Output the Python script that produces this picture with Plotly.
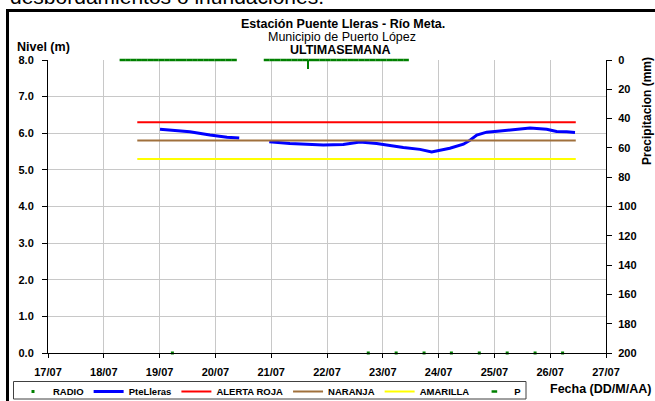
import plotly.graph_objects as go
import pandas as pd

# ---------------- data ----------------
x_range = ["2013-07-17 00:00", "2013-07-27 00:00"]

level_time = [
    "2013-07-19 00:10", "2013-07-19 13:00", "2013-07-19 21:40", "2013-07-20 05:00", "2013-07-20 10:15",
    None,
    "2013-07-20 23:10", "2013-07-21 08:00", "2013-07-21 22:25", "2013-07-22 07:00", "2013-07-22 14:10",
    "2013-07-22 21:20", "2013-07-23 08:50", "2013-07-23 16:00", "2013-07-23 21:00", "2013-07-24 04:50",
    "2013-07-24 10:40", "2013-07-24 13:30", "2013-07-24 16:25", "2013-07-24 20:40", "2013-07-25 02:25",
    "2013-07-25 09:35", "2013-07-25 15:20", "2013-07-25 22:30", "2013-07-26 02:45", "2013-07-26 07:05",
    "2013-07-26 10:40",
]
level_m = [
    6.11, 6.04, 5.95, 5.89, 5.87,
    None,
    5.77, 5.72, 5.68, 5.69, 5.76,
    5.72, 5.61, 5.56, 5.49, 5.59,
    5.70, 5.81, 5.95, 6.03, 6.06,
    6.11, 6.14, 6.11, 6.05, 6.04,
    6.02,
]

threshold_time = ["2013-07-18 14:24", "2013-07-26 11:00"]
alerta_roja_m = [6.3, 6.3]
naranja_m = [5.8, 5.8]
amarilla_m = [5.3, 5.3]

radio_time = [
    "2013-07-19 05:30", "2013-07-22 17:45", "2013-07-23 05:45", "2013-07-23 17:45", "2013-07-24 05:30",
    "2013-07-24 17:30", "2013-07-25 05:30", "2013-07-25 17:30", "2013-07-26 05:20",
]
radio_m = [0, 0, 0, 0, 0, 0, 0, 0, 0]

p_run_start = ["2013-07-18 08:00", "2013-07-20 22:00"]
p_run_end = ["2013-07-20 10:00", "2013-07-23 11:20"]
p_run_mm = [0, 0]
p_step = "144min"
p_spike_time = ["2013-07-21 15:50"]
p_spike_mm = [6]

level_ticks = [0, 1, 2, 3, 4, 5, 6, 7, 8]
precip_ticks = [0, 20, 40, 60, 80, 100, 120, 140, 160, 180, 200]

# ---------------- build ----------------
W, H = 655, 401
L, R, T, B = 48, 49, 60, 48
PW, PH = W - L - R, H - T - B


def px(x):
    return (x - L) / PW


def py(y):
    return (H - B - y) / PH


p_time, p_mm = [], []
for s, e, v in zip(p_run_start, p_run_end, p_run_mm):
    ts = pd.date_range(s, e, freq=p_step)
    p_time += [t.strftime("%Y-%m-%d %H:%M") for t in ts] + [None]
    p_mm += [v] * len(ts) + [None]

FONT = "Liberation Sans, Arial, sans-serif"
GREEN = "#008000"

fig = go.Figure()
fig.add_trace(go.Scatter(
    x=radio_time, y=radio_m, name="RADIO", mode="markers",
    marker=dict(symbol="square", size=3, color=GREEN), cliponaxis=False))
fig.add_trace(go.Scatter(
    x=level_time, y=level_m, name="PteLleras", mode="lines",
    line=dict(color="#0000FF", width=3), connectgaps=False))
fig.add_trace(go.Scatter(
    x=threshold_time, y=alerta_roja_m, name="ALERTA ROJA", mode="lines",
    line=dict(color="#FF0000", width=2)))
fig.add_trace(go.Scatter(
    x=threshold_time, y=naranja_m, name="NARANJA", mode="lines",
    line=dict(color="#A0703C", width=2)))
fig.add_trace(go.Scatter(
    x=threshold_time, y=amarilla_m, name="AMARILLA", mode="lines",
    line=dict(color="#FFFF00", width=2)))
fig.add_trace(go.Scatter(
    x=p_time, y=p_mm, name="P", mode="markers", yaxis="y2",
    marker=dict(symbol="line-ew", size=4, color=GREEN,
                line=dict(color=GREEN, width=2.5)),
    cliponaxis=False))
fig.add_trace(go.Bar(
    x=p_spike_time, y=p_spike_mm, yaxis="y2", base=0, showlegend=False,
    width=2.2 * 86400000 / 55.8, marker=dict(color=GREEN, line=dict(width=0))))

tickfont = dict(family=FONT, size=11, color="black", weight="bold")

fig.update_layout(
    width=W, height=H,
    margin=dict(l=L, r=R, t=T, b=B, autoexpand=False),
    paper_bgcolor="white", plot_bgcolor="white",
    font=dict(family=FONT, color="black"),
    showlegend=True,
    legend=dict(
        orientation="h", x=px(13), y=py(377), xanchor="left", yanchor="top",
        borderwidth=0, bgcolor="rgba(0,0,0,0)",
        font=dict(family=FONT, size=9.5, color="black", weight="bold"),
        itemwidth=30, traceorder="normal", tracegroupgap=0,
    ),
    xaxis=dict(
        type="date", range=x_range, dtick=86400000, tickformat="%d/%m",
        tick0=x_range[0], automargin=False,
        showgrid=True, gridcolor="#C8C8C8", gridwidth=1,
        showline=True, linecolor="black", linewidth=1,
        ticks="outside", ticklen=4, tickcolor="black",
        tickfont=tickfont, ticklabelstandoff=5, zeroline=False,
    ),
    yaxis=dict(
        range=[0, 8], tickvals=level_ticks, tickformat=".1f", automargin=False,
        showgrid=True, gridcolor="#C8C8C8", gridwidth=1,
        showline=True, linecolor="black", linewidth=1,
        ticks="outside", ticklen=5, tickcolor="black",
        tickfont=tickfont, ticklabelstandoff=6, zeroline=False,
    ),
    yaxis2=dict(
        overlaying="y", side="right", range=[200, 0], tickvals=precip_ticks,
        automargin=False,
        showgrid=False, showline=True, linecolor="black", linewidth=1,
        ticks="outside", ticklen=5, tickcolor="black",
        tickfont=tickfont, ticklabelstandoff=4, zeroline=False,
    ),
    bargap=0,
)

ann = [
    dict(text="desbordamientos o inundaciones.", x=px(8), y=py(10), xanchor="left", yanchor="bottom",
         font=dict(family=FONT, size=21, color="black")),
    dict(text="Estación Puente Lleras - Río Meta.", x=px(343), y=py(24), xanchor="center", yanchor="middle",
         font=dict(family=FONT, size=12.5, color="black", weight="bold")),
    dict(text="Municipio de Puerto López", x=px(342), y=py(37), xanchor="center", yanchor="middle",
         font=dict(family=FONT, size=12.5, color="black")),
    dict(text="ULTIMASEMANA", x=px(340), y=py(49.5), xanchor="center", yanchor="middle",
         font=dict(family=FONT, size=12.5, color="black", weight="bold")),
    dict(text="Nivel (m)", x=px(15), y=py(47), xanchor="left", yanchor="middle",
         font=dict(family=FONT, size=12.5, color="black", weight="bold")),
    dict(text="Precipitacion (mm)", x=px(647), y=py(111), xanchor="center", yanchor="middle", textangle=-90,
         font=dict(family=FONT, size=12, color="black", weight="bold")),
    dict(text="Fecha (DD/M/AA)", x=px(653), y=py(389), xanchor="right", yanchor="middle",
         font=dict(family=FONT, size=12.5, color="black", weight="bold")),
]
for a in ann:
    a.update(xref="paper", yref="paper", showarrow=False)
fig.update_layout(annotations=ann)

# chart frame and legend box
fig.add_shape(type="rect", xref="paper", yref="paper",
              x0=px(7.5), x1=px(700), y0=py(450), y1=py(10.5),
              line=dict(color="black", width=3), fillcolor="rgba(0,0,0,0)", layer="above")
fig.add_shape(type="rect", xref="paper", yref="paper",
              x0=px(13.5), x1=px(526), y0=py(399), y1=py(381.5),
              line=dict(color="#404040", width=1), fillcolor="rgba(0,0,0,0)", layer="above")

fig.write_html("out.html", config={"displayModeBar": False},
               post_script="document.body.style.margin='0';")
